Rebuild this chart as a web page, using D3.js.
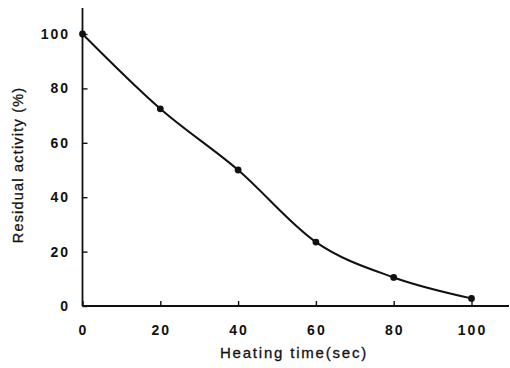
<!DOCTYPE html>
<html>
<head>
<meta charset="utf-8">
<script src="https://cdn.jsdelivr.net/npm/d3@7"></script>
<style>
  body { margin: 0; background: #fff; }
  text { font-family: "Liberation Sans", Arial, sans-serif; fill: #111; }
</style>
</head>
<body>
<div id="chart"></div>
<script>
// heating time (sec) vs residual activity (%)
const times = [0, 20, 40, 60, 80, 100];
const activity = [100, 72.5, 50, 23.5, 10.5, 2.8];
const xTicks = [0, 20, 40, 60, 80, 100];
const yTicks = [0, 20, 40, 60, 80, 100];

const width = 510, height = 368;
const svg = d3.select("#chart").append("svg")
    .attr("width", width)
    .attr("height", height);

const x = d3.scaleLinear().domain([0, 100]).range([82.5, 471.5]);
const y = d3.scaleLinear().domain([0, 100]).range([306, 34]);

// axes lines
svg.append("line")
    .attr("x1", x(0)).attr("x2", 509)
    .attr("y1", y(0)).attr("y2", y(0))
    .attr("stroke", "#111").attr("stroke-width", 1.8);
svg.append("line")
    .attr("x1", x(0)).attr("x2", x(0))
    .attr("y1", y(0)).attr("y2", 8)
    .attr("stroke", "#111").attr("stroke-width", 1.8);

// inward ticks
const xAxis = d3.axisTop(x).tickValues(xTicks).tickSize(5).tickFormat("");
svg.append("g").attr("transform", `translate(0,${y(0)})`).call(xAxis)
    .call(g => g.select(".domain").remove())
    .call(g => g.selectAll("line").attr("stroke", "#111").attr("stroke-width", 1.4));
const yAxis = d3.axisRight(y).tickValues(yTicks).tickSize(5).tickFormat("");
svg.append("g").attr("transform", `translate(${x(0)},0)`).call(yAxis)
    .call(g => g.select(".domain").remove())
    .call(g => g.selectAll("line").attr("stroke", "#111").attr("stroke-width", 1.4));

// tick labels
svg.append("g").selectAll("text").data(xTicks).join("text")
    .attr("x", d => x(d) + 1)
    .attr("y", 335)
    .attr("text-anchor", "middle")
    .attr("font-size", 14)
    .attr("font-weight", "bold")
    .attr("letter-spacing", 2)
    .text(d => d);
svg.append("g").selectAll("text").data(yTicks).join("text")
    .attr("x", 70)
    .attr("y", d => y(d) + 5)
    .attr("text-anchor", "end")
    .attr("font-size", 14)
    .attr("font-weight", "bold")
    .attr("letter-spacing", 2)
    .text(d => d);

// axis titles
svg.append("text")
    .attr("x", 294).attr("y", 358)
    .attr("text-anchor", "middle")
    .attr("font-size", 15)
    .attr("letter-spacing", 1.8)
    .attr("stroke", "#111").attr("stroke-width", 0.3)
    .text("Heating time(sec)");
svg.append("text")
    .attr("transform", "translate(23,165) rotate(-90)")
    .attr("text-anchor", "middle")
    .attr("font-size", 14.5)
    .attr("letter-spacing", 1.2)
    .attr("stroke", "#111").attr("stroke-width", 0.3)
    .text("Residual activity (%)");

// curve
const line = d3.line()
    .x((d, i) => x(times[i]))
    .y(d => y(d))
    .curve(d3.curveMonotoneX);
svg.append("path")
    .datum(activity)
    .attr("d", line)
    .attr("fill", "none")
    .attr("stroke", "#111")
    .attr("stroke-width", 2);

svg.append("g").selectAll("circle").data(activity).join("circle")
    .attr("cx", (d, i) => x(times[i]))
    .attr("cy", d => y(d))
    .attr("r", 3.4)
    .attr("fill", "#111");
</script>
</body>
</html>
